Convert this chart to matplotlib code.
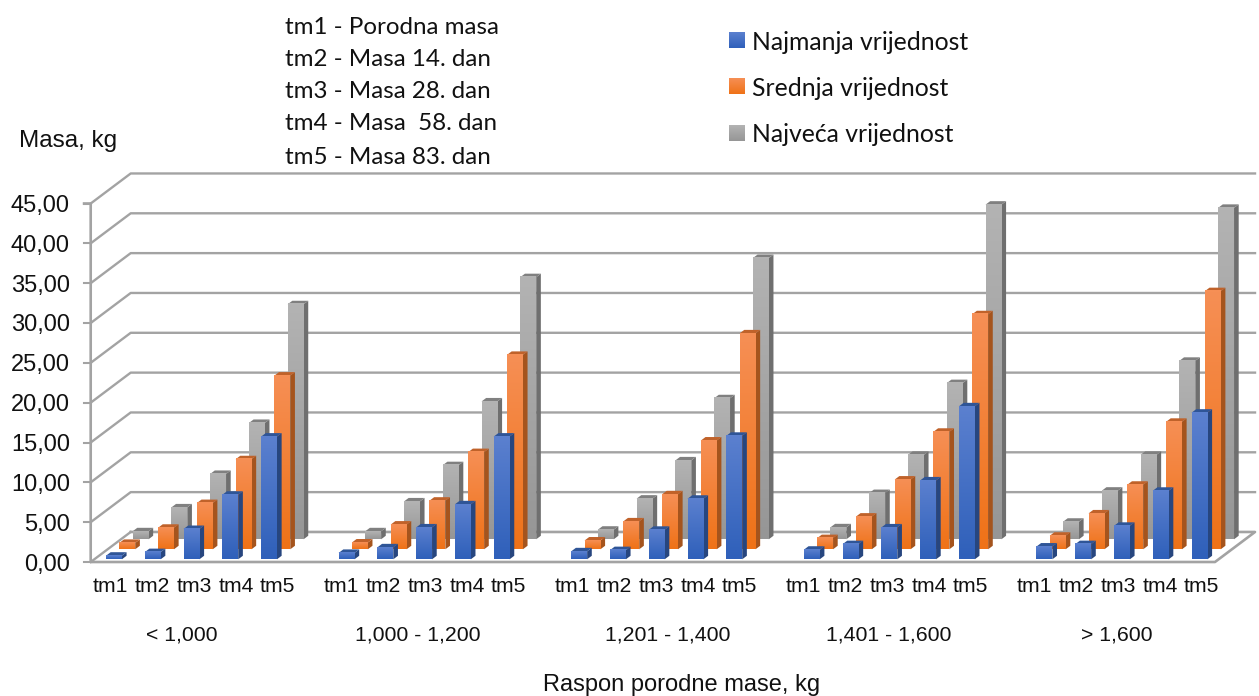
import numpy as np
import matplotlib
matplotlib.use('Agg')
import matplotlib.pyplot as plt

groups = ['< 1,000', '1,000 - 1,200', '1,201 - 1,400', '1,401 - 1,600', '> 1,600']
tms = ['tm1', 'tm2', 'tm3', 'tm4', 'tm5']
series = ['Najmanja vrijednost', 'Srednja vrijednost', 'Najveća vrijednost']
tm_notes = ['tm1 - Porodna masa', 'tm2 - Masa 14. dan', 'tm3 - Masa 28. dan',
            'tm4 - Masa  58. dan', 'tm5 - Masa 83. dan']
y_ticks = [0, 5, 10, 15, 20, 25, 30, 35, 40, 45]

najmanja = [[0.45, 0.9, 3.8, 8.1, 15.4],
            [0.8, 1.5, 4.0, 6.9, 15.4],
            [1.0, 1.15, 3.7, 7.6, 15.5],
            [1.2, 1.9, 4.0, 9.9, 19.2],
            [1.6, 1.9, 4.2, 8.6, 18.4]]
srednja = [[0.8, 2.7, 5.8, 11.3, 21.8],
           [0.85, 3.1, 6.1, 12.2, 24.4],
           [1.1, 3.5, 6.9, 13.65, 27.1],
           [1.4, 4.1, 8.75, 14.75, 29.5],
           [1.7, 4.5, 8.1, 16.0, 32.4]]
najveca = [[1.0, 4.0, 8.2, 14.6, 29.5],
           [1.0, 4.75, 9.3, 17.3, 32.9],
           [1.2, 5.1, 9.9, 17.7, 35.3],
           [1.5, 5.8, 10.6, 19.6, 42.0],
           [2.2, 6.1, 10.6, 22.4, 41.6]]

W, H = 1259, 696
fig = plt.figure(figsize=(W / 100, H / 100), dpi=100)

# overlay in pixels for the text and legend
over = fig.add_axes([0, 0, 1, 1], zorder=3)
over.set_xlim(0, W)
over.set_ylim(H, 0)
over.axis('off')
over.patch.set_alpha(0)

# chart axes: one x unit is one category slot
left, right, y0, y45 = 90.7, 1215, 562, 203.5
ax = fig.add_axes([left / W, 1 - y0 / H, (right - left) / W, (y0 - y45) / H])
ax.axis('off')

slots = 29
back_dx, back_dy = 1.032, 3.77
grid_c = '#a3a3a3'

# walls and gridlines
for v in y_ticks[1:]:
    ax.plot([0, back_dx, slots + back_dx], [v, v + back_dy, v + back_dy],
            color=grid_c, lw=1.7, clip_on=False, zorder=1)
    ax.plot([-0.17, 0], [v, v], color=grid_c, lw=1.5, clip_on=False, zorder=1)
ax.plot([back_dx, slots + back_dx, slots, 0, 0, -0.17],
        [back_dy, back_dy, 0, 0, 45, 45],
        color=grid_c, lw=1.9, clip_on=False, zorder=1)
ax.plot([0, back_dx], [0, back_dy], color=grid_c, lw=1.7, clip_on=False, zorder=1)
ax.plot([-0.17, 0], [0, 0], color=grid_c, lw=1.5, clip_on=False, zorder=1)

width = 0.41
start = 0.395
step_x, step_y = 0.343, 1.256
depth_x, depth_y = 0.12, 0.44
base0 = 0.34

tops = ['#5b80cf', '#f68f55', '#b3b3b3']
bottoms = ['#2f60ba', '#ef7217', '#969696']
sides = ['#27467f', '#a5541d', '#6f6f6f']
caps = ['#2f5597', '#c0622a', '#808080']
values = [najmanja, srednja, najveca]


def gradient(c1, c2):
    a = np.array(matplotlib.colors.to_rgb(c1))
    b = np.array(matplotlib.colors.to_rgb(c2))
    t = np.linspace(0, 1, 64)[:, None]
    return (a * (1 - t) + b * t)[:, None, :]


# back series first so the front ones cover it
z = 2
for s in [2, 1, 0]:
    xoff = start + s * step_x
    base = base0 + s * step_y
    grad = gradient(tops[s], bottoms[s])
    for g in range(len(groups)):
        for t in range(len(tms)):
            x = 6 * g + t + xoff
            v = values[s][g][t]
            top = base + v
            ax.fill([x + width, x + width + depth_x, x + width + depth_x, x + width],
                    [base, base + depth_y, top + depth_y, top],
                    color=sides[s], lw=0, clip_on=False, zorder=z)
            ax.fill([x, x + depth_x, x + width + depth_x, x + width],
                    [top, top + depth_y, top + depth_y, top],
                    color=caps[s], lw=0, clip_on=False, zorder=z)
            ax.bar(x, v, width, bottom=base, align='edge', color=bottoms[s],
                   lw=0, clip_on=False, zorder=z)
            ax.imshow(grad, extent=[x, x + width, base, top], aspect='auto',
                      clip_on=False, zorder=z + 0.1, interpolation='bilinear')
    z += 1

ax.set_xlim(0, slots)
ax.set_ylim(0, 45)

# y tick labels
arial = 'Liberation Sans'
for v in y_ticks:
    py = y0 - v * (y0 - y45) / 45
    over.text(70, py + 2.5, ('%.2f' % v).replace('.', ','),
              ha='right', va='center', fontsize=17, family=arial, color='#111111')

# category labels
for g in range(len(groups)):
    for t in range(len(tms)):
        over.text(110.5 + 231 * g + 41.8 * t, 586, tms[t], ha='center', va='center',
                  fontsize=15.2, family=arial, color='#111111')
group_x = [182, 418, 668, 889, 1117]
for g in range(len(groups)):
    over.text(group_x[g], 635, groups[g], ha='center', va='center',
              fontsize=15.3, family=arial, color='#111111')

over.text(682, 685, 'Raspon porodne mase, kg', ha='center', va='center',
          fontsize=17, family=arial, color='#111111')
over.text(19, 141, 'Masa, kg', ha='left', va='center',
          fontsize=17.5, family=arial, color='#111111')

# notes top
note_y = [28, 60, 92, 124, 157]
for i in range(len(tm_notes)):
    over.text(285, note_y[i], tm_notes[i], ha='left', va='center',
              fontsize=17.4, family='Lato', color='#111111')

# legend
leg_y = [40, 86, 133]
for i in range(len(series)):
    over.imshow(gradient(tops[i], bottoms[i]),
                extent=[729, 745, leg_y[i] + 8, leg_y[i] - 8], aspect='auto', zorder=3)
    over.text(752, leg_y[i] + 2, series[i], ha='left', va='center',
              fontsize=17.8, family='Lato', color='#111111')
over.set_xlim(0, W)
over.set_ylim(H, 0)

fig.savefig('out.png', dpi=100)
